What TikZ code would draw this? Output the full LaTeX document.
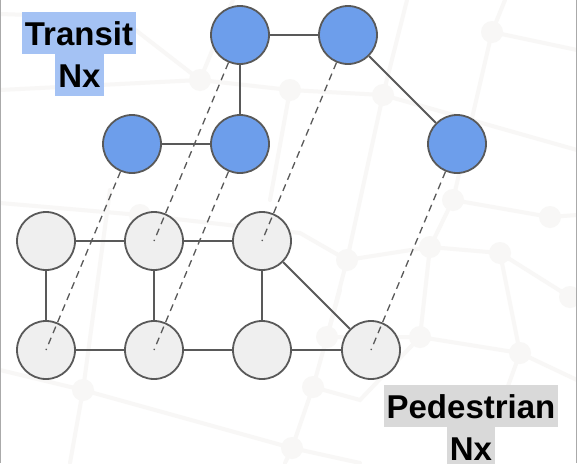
\documentclass[tikz,border=0pt]{standalone}
\usepackage{fontspec}
\setmainfont{Liberation Sans}
\definecolor{tblue}{HTML}{6D9EEB}
\definecolor{pgray}{HTML}{EFEFEF}
\definecolor{edgegray}{HTML}{595959}
\definecolor{hlblue}{HTML}{A4C2F4}
\definecolor{hlgray}{HTML}{D9D9D9}
\definecolor{streetc}{HTML}{F8F7F6}
\definecolor{framec}{HTML}{AAAAAA}
\begin{document}
\begin{tikzpicture}[x=1pt,y=-1pt,
  stop/.style={circle, draw=edgegray, line width=1.8pt, minimum size=58pt, inner sep=0pt},
  transit/.style={stop, fill=tblue},
  walk/.style={stop, fill=pgray},
  link/.style={draw=edgegray, line width=1.8pt},
  transfer/.style={draw=edgegray, line width=1.3pt, dash pattern=on 7pt off 5pt},
  street/.style={draw=streetc, line width=4pt, line cap=round},
  junction/.style={fill=streetc},
  tag/.style={font=\bfseries\fontsize{33}{42}\selectfont, inner xsep=3pt, inner ysep=2pt,
              text height=31pt, text depth=7pt, anchor=base}]

% canvas
\useasboundingbox (0,0) rectangle (577,463);
\fill[white] (0,0) rectangle (577,463);

% faint street network in the background
\begin{scope}
  \draw[street] (0,14) -- (120,18) -- (200,80) -- (290,90) -- (383,95) -- (577,150);
  \draw[street] (0,90) -- (200,80);
  \draw[street] (233,0) -- (200,80);
  \draw[street] (407,0) -- (383,95) -- (347,260) -- (327,337) -- (313,387) -- (292,448) -- (285,463);
  \draw[street] (505,0) -- (492,32) -- (577,50);
  \draw[street] (492,32) -- (453,200) -- (430,247) -- (420,337);
  \draw[street] (290,90) -- (270,200);
  \draw[street] (0,203) -- (140,215) -- (300,233) -- (347,260) -- (430,247) -- (500,253) -- (570,297);
  \draw[street] (453,200) -- (550,217) -- (577,215);
  \draw[street] (500,253) -- (520,353) -- (577,380);
  \draw[street] (340,290) -- (327,337) -- (420,337) -- (520,353);
  \draw[street] (110,190) -- (83,390) -- (70,463);
  \draw[street] (0,370) -- (83,390) -- (292,448) -- (360,463);
  \draw[street] (313,387) -- (360,400) -- (420,337);
  \draw[street] (520,353) -- (480,463);
  \foreach \p in {(200,80),(290,90),(383,95),(492,32),(453,200),(550,217),(347,260),
                  (430,247),(500,253),(570,297),(327,337),(420,337),(520,353),
                  (313,387),(83,390),(292,448),(140,215)}
    \fill[junction] \p circle (11pt);
\end{scope}

% frame edges
\draw[framec, line width=1.4pt] (0.7,0) -- (0.7,463);
\draw[framec, line width=1.4pt] (576.3,0) -- (576.3,463);

% pedestrian network
\node[walk] (p1) at (46,241) {};
\node[walk] (p2) at (154,241) {};
\node[walk] (p3) at (262,241) {};
\node[walk] (p5) at (46,350) {};
\node[walk] (p6) at (154,350) {};
\node[walk] (p7) at (262,350) {};
\node[walk] (p8) at (371,350) {};

\draw[link] (p1) -- (p2);
\draw[link] (p2) -- (p3);
\draw[link] (p1) -- (p5);
\draw[link] (p2) -- (p6);
\draw[link] (p3) -- (p7);
\draw[link] (p5) -- (p6);
\draw[link] (p6) -- (p7);
\draw[link] (p7) -- (p8);
\draw[link] (p3) -- (p8);

% transit network
\node[transit] (t1) at (240,35) {};
\node[transit] (t2) at (348,35) {};
\node[transit] (t3) at (132,144) {};
\node[transit] (t4) at (240,144) {};
\node[transit] (t5) at (457,144) {};

\draw[link] (t1) -- (t2);
\draw[link] (t1) -- (t4);
\draw[link] (t3) -- (t4);
\draw[link] (t2) -- (t5);

% transfers between the two layers
\draw[transfer] (t3) -- (p5.center);
\draw[transfer] (t1) -- (p2.center);
\draw[transfer] (t4) -- (p6.center);
\draw[transfer] (t2) -- (p3.center);
\draw[transfer] (t5) -- (p8.center);

% layer labels
\node[tag, fill=hlblue] (tr1) at (79,45) {Transit};
\node[tag, fill=hlblue] (tr2) at (79.5,87) {Nx};
\node[tag, fill=hlgray] (pe1) at (471,418) {Pedestrian};
\node[tag, fill=hlgray] (pe2) at (471,460) {Nx};
\end{tikzpicture}
\end{document}
